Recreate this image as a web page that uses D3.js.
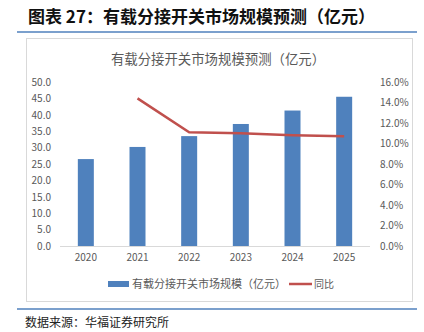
<!DOCTYPE html>
<html><head><meta charset="utf-8">
<script src="https://cdn.jsdelivr.net/npm/d3@7/dist/d3.min.js"></script>
<style>body{margin:0;background:#fff;}svg{display:block;}</style>
</head><body>
<script>
const categories = ["2020","2021","2022","2023","2024","2025"];
const marketSize = [26.5, 30.2, 33.5, 37.2, 41.3, 45.5];
const yoyYears = ["2021","2022","2023","2024","2025"];
const yoyValues = [0.144, 0.111, 0.110, 0.108, 0.107];
const leftTicks = [0,5,10,15,20,25,30,35,40,45,50];
const rightTicks = [0,0.02,0.04,0.06,0.08,0.10,0.12,0.14,0.16];
const seriesNames = ["有载分接开关市场规模（亿元）","同比"];

const W = 424, H = 332;
const font = "'Noto Sans CJK SC','Noto Sans',sans-serif";
const svg = d3.select("body").append("svg").attr("width", W).attr("height", H);

// header
svg.append("text").attr("x", 28).attr("y", 23).attr("font-family", font)
  .attr("font-size", 17).attr("font-weight", "bold").attr("fill", "#111")
  .text("图表 27：有载分接开关市场规模预测（亿元）");
svg.append("line").attr("x1", 17).attr("x2", 417).attr("y1", 32).attr("y2", 32)
  .attr("stroke", "#4F81BD").attr("stroke-width", 1.5);

// chart box
svg.append("rect").attr("x", 26.5).attr("y", 38.5).attr("width", 386).attr("height", 263)
  .attr("fill", "#fff").attr("stroke", "#d9d9d9");
svg.append("text").attr("x", 218).attr("y", 64).attr("text-anchor", "middle")
  .attr("font-family", font).attr("font-size", 13.4).attr("fill", "#595959")
  .text("有载分接开关市场规模预测（亿元）");

const x = d3.scaleBand().domain(categories).range([60, 370]);
const yL = d3.scaleLinear().domain([0, 50]).range([246, 82]);
const yR = d3.scaleLinear().domain([0, 0.16]).range([246, 82]);

// baseline
svg.append("line").attr("x1", 60).attr("x2", 370).attr("y1", 246.5).attr("y2", 246.5)
  .attr("stroke", "#d9d9d9");

// bars
const bw = 16;
svg.selectAll("rect.bar").data(marketSize).enter().append("rect").attr("class", "bar")
  .attr("x", (d, i) => x(categories[i]) + x.bandwidth() / 2 - bw / 2)
  .attr("y", d => yL(d)).attr("width", bw).attr("height", d => yL(0) - yL(d))
  .attr("fill", "#4F81BD");

// line
const line = d3.line().x((d, i) => x(yoyYears[i]) + x.bandwidth() / 2).y(d => yR(d));
svg.append("path").datum(yoyValues).attr("d", line).attr("fill", "none")
  .attr("stroke", "#C0504D").attr("stroke-width", 2.5);

// axes
const axL = d3.axisLeft(yL).tickValues(leftTicks).tickFormat(d3.format(".1f")).tickSize(0).tickPadding(0);
const gL = svg.append("g").attr("transform", "translate(51,0)").call(axL);
const axR = d3.axisRight(yR).tickValues(rightTicks).tickFormat(d3.format(".1%")).tickSize(0).tickPadding(0);
const gR = svg.append("g").attr("transform", "translate(380,0)").call(axR);
const axB = d3.axisBottom(x).tickSize(0).tickPadding(8);
const gB = svg.append("g").attr("transform", "translate(0,246)").call(axB);
[gL, gR, gB].forEach(g => {
  g.select(".domain").remove();
  g.selectAll("text").attr("font-family", font).attr("font-size", 10).attr("fill", "#595959");
});

// legend
svg.append("rect").attr("x", 108).attr("y", 281).attr("width", 21).attr("height", 6).attr("fill", "#4F81BD");
svg.append("text").attr("x", 132).attr("y", 288).attr("font-family", font).attr("font-size", 11)
  .attr("fill", "#595959").text(seriesNames[0]);
svg.append("line").attr("x1", 289).attr("x2", 312).attr("y1", 284).attr("y2", 284)
  .attr("stroke", "#C0504D").attr("stroke-width", 2.5);
svg.append("text").attr("x", 314).attr("y", 288).attr("font-family", font).attr("font-size", 10)
  .attr("fill", "#595959").text(seriesNames[1]);

// footer
svg.append("line").attr("x1", 17).attr("x2", 417).attr("y1", 309).attr("y2", 309)
  .attr("stroke", "#4F81BD").attr("stroke-width", 1.5);
svg.append("text").attr("x", 25).attr("y", 327).attr("font-family", font).attr("font-size", 12)
  .attr("fill", "#222").text("数据来源：华福证券研究所");
</script>
</body></html>
